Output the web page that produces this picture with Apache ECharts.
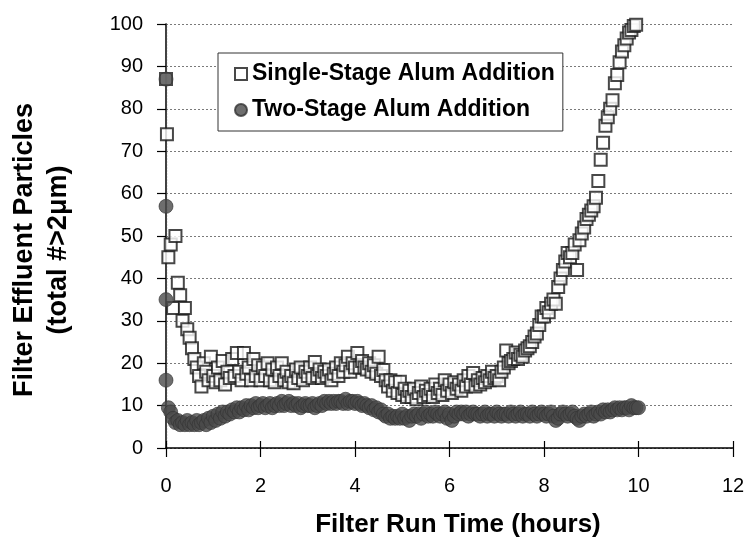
<!DOCTYPE html>
<html>
<head>
<meta charset="utf-8">
<script src="https://cdn.jsdelivr.net/npm/echarts@6/dist/echarts.min.js"></script>
<style>
  html, body { margin: 0; padding: 0; background: #fff; }
  #chart { width: 748px; height: 546px; }
</style>
</head>
<body>
<div id="chart"></div>
<script>
// Sampling times (hours) of the filter run, shared by both runs
const runHours = [
  0.05,0.10,0.15,0.20,0.25,0.30,0.35,0.40,0.45,0.50,0.55,0.60,0.65,0.70,0.75,0.80,0.85,0.90,0.95,1.00,
  1.05,1.10,1.15,1.20,1.25,1.30,1.35,1.40,1.45,1.50,1.55,1.60,1.65,1.70,1.75,1.80,1.85,1.90,1.95,2.00,
  2.05,2.10,2.15,2.20,2.25,2.30,2.35,2.40,2.45,2.50,2.55,2.60,2.65,2.70,2.75,2.80,2.85,2.90,2.95,3.00,
  3.05,3.10,3.15,3.20,3.25,3.30,3.35,3.40,3.45,3.50,3.55,3.60,3.65,3.70,3.75,3.80,3.85,3.90,3.95,4.00,
  4.05,4.10,4.15,4.20,4.25,4.30,4.35,4.40,4.45,4.50,4.55,4.60,4.65,4.70,4.75,4.80,4.85,4.90,4.95,5.00,
  5.05,5.10,5.15,5.20,5.25,5.30,5.35,5.40,5.45,5.50,5.55,5.60,5.65,5.70,5.75,5.80,5.85,5.90,5.95,6.00,
  6.05,6.10,6.15,6.20,6.25,6.30,6.35,6.40,6.45,6.50,6.55,6.60,6.65,6.70,6.75,6.80,6.85,6.90,6.95,7.00,
  7.05,7.10,7.15,7.20,7.25,7.30,7.35,7.40,7.45,7.50,7.55,7.60,7.65,7.70,7.75,7.80,7.85,7.90,7.95,8.00,
  8.05,8.10,8.15,8.20,8.25,8.30,8.35,8.40,8.45,8.50,8.55,8.60,8.65,8.70,8.75,8.80,8.85,8.90,8.95,9.00,
  9.05,9.10,9.15,9.20,9.25,9.30,9.35,9.40,9.45,9.50,9.55,9.60,9.65,9.70,9.75,9.80,9.85,9.90,9.95,10.00
];

// Start-up readings taken right at the beginning of each run
const singleStartHours = [0, 0.02];
const singleStartValues = [87, 74];
const twoStartHours = [0, 0, 0, 0];
const twoStartValues = [87, 57, 35, 16];

// Single-stage alum addition: particle counts (total # > 2 um)
const singleStage = [
  45,48,33,50,39,36,30,33,28,26,23.5,21,19,17,14.5,20,18,16,21.5,17,
  15.5,19,16,20.5,15,18,16.5,21,17,22.4,18,16,22.4,17.5,19,16,21,17,19.5,16,
  19,17,20,16,18.5,15.5,19,17,20,16,18,15.5,17,15.3,18.5,16.5,19,16,18,17,
  19,16.5,20.3,17,18.5,16.5,18,17,18.5,16,17.5,19,17,20,18,19.5,21.5,18,20,19,
  22.4,19,20.5,19,18.5,20,18,19.5,17.5,21.5,17,18.4,16,14.5,16,13.5,15.5,13,15.6,12.5,
  14,12,13.5,12,14,11.5,13,14.5,12,13.5,12.5,14,12,15,13,14,12.5,16,13.5,15,
  13,15.5,14,15,13.5,16,14.5,17,15,17.7,14.5,16,15,16.5,15.5,17,16,18,16.5,17,
  16,18,19,23,20,20.5,21,22.5,21,22,21.5,23,23.5,24,25,26.3,27,29,31,31,
  33,32,34,35,34,38,40,42,44,46,45,46,48,42,49,50.6,52,54,55,56,
  57,59,63,68,72,76,78,80,82,86,88,91,93.5,95,96.6,98,98.6,99.5,99.8
];

// Two-stage alum addition: particle counts (total # > 2 um)
const twoStage = [
  9.5,8.5,7,6,6.5,5.5,6,5.5,6.5,5.5,6,5.5,6.5,5.5,6,6.5,5.5,7,6,7.5,
  6.5,8,7,8.5,7.5,8.5,8,9,8.5,9.5,8.5,9.5,9,10,9,10,9.5,10.5,9.5,10,
  10.5,9.5,10,10.5,9.5,10,10.5,10,11,10,10.5,11,10,10.5,10,10.5,9.5,10,10.5,10,
  10,10.5,9.5,10,10.5,10,11,10.5,11,10.5,11,10.5,11,11,10.5,11.5,10.5,11,11,10.5,
  11,10.5,10,10.5,10,9.5,10,9,9.5,8.5,9,8,7.5,8,7,7.5,7,7.5,7,8,
  7,7.5,6.5,7.5,8,7.5,8,7,8,8.5,7.5,8,7.5,8.5,8,7.5,8,8.5,7,8,
  6.5,7.5,8.5,8,8.5,8,8.5,7.5,8,8.5,8,8,7.5,8,8.5,7.5,8,8,7.5,8.5,
  8,7.5,8,8,7.5,8.5,8,7.5,8,8.5,7.5,8,8,7.5,8.5,8,7.5,8,8.5,8,
  7.5,8,8.5,7.5,6.5,7,8,8.5,8,7.5,8,8.5,7.5,7,6.5,7.5,8,7.5,8,8.5,
  7.5,8,8.5,8,9,8.5,9,8.5,9,9.5,9,9.5,9,9.5,9.5,9,10,9.5,9.5,9.5
];

const seriesNames = ['Single-Stage Alum Addition', 'Two-Stage Alum Addition'];

const FONT = '"Liberation Sans", Arial, Helvetica, sans-serif';

function pairs(hours, values) {
  return values.map((v, i) => [hours[i], v]);
}

const singleData = pairs(singleStartHours, singleStartValues).concat(pairs(runHours, singleStage));
const twoData = pairs(twoStartHours, twoStartValues).concat(pairs(runHours, twoStage));

const chart = echarts.init(document.getElementById('chart'), null, { renderer: 'canvas' });

chart.setOption({
  backgroundColor: '#fff',
  animation: false,
  textStyle: { fontFamily: FONT, color: '#000' },
  grid: { left: 166, right: 15, top: 24, bottom: 98, containLabel: false },
  xAxis: [
    {
      type: 'value', min: 0, max: 12, interval: 2, position: 'bottom',
      name: 'Filter Run Time (hours)', nameLocation: 'middle', nameGap: 64,
      nameTextStyle: { fontFamily: FONT, fontSize: 26, fontWeight: 'bold', color: '#000', padding: [0, 0, 0, 17] },
      axisLine: { show: true, lineStyle: { color: '#000', width: 1.5 } },
      axisTick: { show: true, inside: false, length: 9, lineStyle: { color: '#000', width: 1.2 } },
      axisLabel: { fontFamily: FONT, fontSize: 20, color: '#000', margin: 28 },
      splitLine: { show: false }
    },
    {
      // upper half of the crossing tick marks on the time axis
      type: 'value', min: 0, max: 12, interval: 2, position: 'bottom',
      axisLine: { show: false },
      axisTick: { show: true, inside: true, length: 7, lineStyle: { color: '#000', width: 1.2 } },
      axisLabel: { show: false },
      splitLine: { show: false }
    }
  ],
  yAxis: [
    {
      type: 'value', min: 0, max: 100, interval: 10, position: 'left',
      axisLine: { show: true, lineStyle: { color: '#000', width: 1.5 } },
      axisTick: { show: true, inside: false, length: 9, lineStyle: { color: '#000', width: 1.2 } },
      axisLabel: { fontFamily: FONT, fontSize: 20, color: '#000', margin: 23 },
      splitLine: { show: true, lineStyle: { color: '#7a7a7a', width: 1, type: [2, 2] } }
    },
    {
      // right-hand frame of the plot area
      type: 'value', min: 0, max: 100, interval: 10, position: 'right',
      axisLine: { show: true, lineStyle: { color: '#444', width: 1.2, type: [2, 1] } },
      axisTick: { show: false },
      axisLabel: { show: false },
      splitLine: { show: false }
    }
  ],
  legend: {
    orient: 'vertical',
    left: 218, top: 53,
    padding: [9, 8, 9, 16],
    itemGap: 12,
    itemWidth: 12, itemHeight: 12,
    backgroundColor: '#fff',
    borderColor: '#333', borderWidth: 1,
    textStyle: { fontFamily: FONT, fontSize: 23, fontWeight: 'bold', color: '#000', lineHeight: 24 },
    data: seriesNames
  },
  graphic: [
    {
      type: 'text',
      rotation: Math.PI / 2,
      x: 42, y: 250,
      style: {
        text: 'Filter Effluent Particles\n(total #>2μm)',
        font: 'bold 27px ' + FONT,
        fill: '#000',
        align: 'center',
        verticalAlign: 'middle',
        lineHeight: 34
      }
    }
  ],
  series: [
    {
      name: seriesNames[0],
      type: 'scatter',
      symbol: 'rect',
      symbolSize: 12,
      itemStyle: { color: '#fff', borderColor: '#1a1a1a', borderWidth: 2 },
      data: singleData,
      z: 2
    },
    {
      name: seriesNames[1],
      type: 'scatter',
      symbol: 'circle',
      symbolSize: 14,
      itemStyle: { color: '#4a4a4a', borderColor: '#333', borderWidth: 0.8 },
      data: twoData,
      z: 3
    }
  ]
});
</script>
</body>
</html>
